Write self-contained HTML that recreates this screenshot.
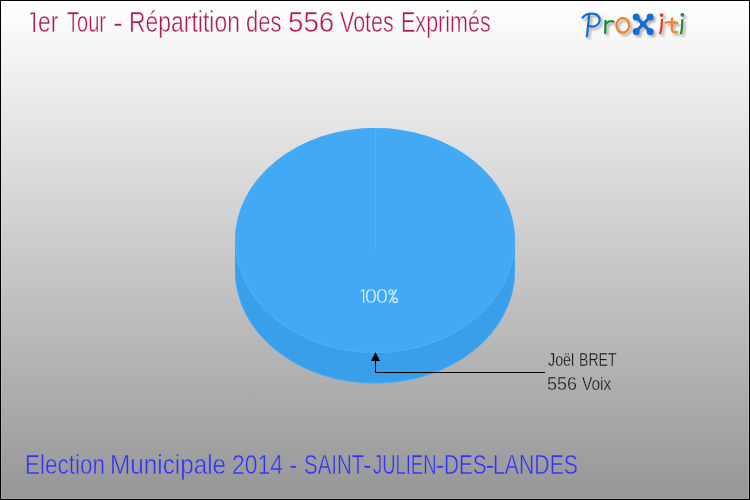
<!DOCTYPE html>
<html><head><meta charset="utf-8">
<style>
html,body{margin:0;padding:0;width:750px;height:500px;overflow:hidden;}
#wrap{position:absolute;left:0;top:0;width:750px;height:500px;box-sizing:border-box;border:1px solid #000;
background:linear-gradient(to bottom,#ffffff 0px,#969696 500px);background-origin:border-box;}
#hl{position:absolute;left:0;top:0;right:0;bottom:0;border:1px solid rgba(255,255,255,0.12);}
.t{position:absolute;font-family:"Liberation Sans",sans-serif;white-space:nowrap;transform-origin:0 0;line-height:1;}
svg{position:absolute;left:0;top:0;}
.shadow{--cb:#b0b0b0;--cg:#b0b0b0;--co:#b0b0b0;--cr:#b0b0b0;}
.main{--cb:#146ed2;--cg:#1e8c3a;--co:#f7821c;--cr:#e83a1c;}
.pb{stroke:var(--cb);} .pb .dot,.px .dot{fill:var(--cb);stroke:none;}
.px{stroke:var(--cb);}
.pg{stroke:var(--cg);} .pg .dot{fill:var(--cg);stroke:none;}
.po{stroke:var(--co);}
.pr{stroke:var(--cr);} .pr .dot{fill:var(--cr);stroke:none;}
</style></head><body>
<div id="wrap"><div id="hl"></div></div>
<svg width="750" height="500" viewBox="0 0 750 500">
  <path d="M235,240.5 L235,271 A140,112.5 0 0 0 515,271 L515,240.5 Z" fill="#3a9fea"/>
  <path d="M235.4,240.5 L235.4,271 A139.6,112.1 0 0 0 514.6,271 L514.6,240.5" fill="none" stroke="#3db0fc" stroke-width="0.8"/>
  <ellipse cx="375" cy="240.5" rx="140" ry="112.5" fill="#43a9f4"/>
  <path d="M235.4,240.5 A139.6,112.1 0 0 1 514.6,240.5" fill="none" stroke="#3db0fc" stroke-width="0.8"/>
  <path d="M235.5,240.5 A139.5,112 0 0 0 514.5,240.5" fill="none" stroke="#4cb3fa" stroke-width="1"/>
  <line x1="375.5" y1="129" x2="375.5" y2="249" stroke="#4fb4fc" stroke-width="1"/>
  <path d="M31,14.2 L31.4,13.2 L34.3,13.2 L34.3,31.9" fill="none" stroke="#b0185a" stroke-width="1.6" stroke-linejoin="round"/>
  <g fill="none" stroke="#dcefff" stroke-width="1.2">
  <path d="M360.8,291.6 L363.6,289.6 L363.6,303.1" stroke-linejoin="miter"/>
  <circle cx="391.1" cy="292.1" r="2.1"/><circle cx="395.2" cy="300.3" r="2.2"/>
  <path d="M396.6,289.4 L389.4,302.8"/></g>
  <polygon points="375.5,352 371,361 380,361" fill="#000"/>
  <polyline points="375.5,360 375.5,372.5 545,372.5" fill="none" stroke="#000" stroke-width="1"/>
</svg>
<svg width="750" height="500" viewBox="0 0 750 500">
 <defs>
  <filter id="blr" x="-10%" y="-10%" width="120%" height="120%"><feGaussianBlur stdDeviation="0.8"/></filter>
 </defs>
 <g transform="translate(2.2,2.4)" filter="url(#blr)" class="shadow"><g fill="none" stroke-linecap="round" stroke-linejoin="round">
   <g class="pb"><path d="M582.6,17.6 C585,14.6 589.5,13.4 594,13.8 C600,14.6 601.3,21.5 597.2,24.8 C594.7,26.7 591.5,26.7 589.8,26.2" stroke-width="2.3"/>
   <path d="M589,15.2 C588.6,22 587.6,30 586.9,36.4" stroke-width="2.3"/></g>
   <g class="pg"><path d="M605.5,21 L605.2,33 M605.5,24.6 C607,21.6 610.5,20.3 613.3,21.5" stroke-width="2.3"/></g>
   <g class="po"><ellipse cx="622.8" cy="25.3" rx="6.4" ry="7.3" stroke-width="2.3"/></g>
   <g class="px"><path d="M636.2,16.9 L650.1,31.4 M650.1,16.9 L636.2,31.4" stroke-width="3"/>
     <circle cx="643.15" cy="24.15" r="3" class="dot"/>
     <circle cx="636.2" cy="16.9" r="3.5" class="dot"/><circle cx="650.1" cy="16.9" r="3.5" class="dot"/>
     <circle cx="636.2" cy="31.4" r="3.5" class="dot"/><circle cx="650.1" cy="31.4" r="3.5" class="dot"/></g>
   <g class="pr"><path d="M661.9,19.8 C661.8,25 661.3,30 660.2,33.4" stroke-width="2.2"/><circle cx="661.6" cy="15.1" r="1.9" class="dot"/></g>
   <g class="po"><path d="M672.1,18.4 C671.9,23 671.6,27 671.8,29.5 C672,32 674.5,32.6 677.2,32.1 M665.8,22.5 C669.5,21.9 673.5,22.1 677.2,22.8" stroke-width="2.2"/></g>
   <g class="pg"><path d="M682.3,20 C682.2,25 682,30 681,33.5" stroke-width="2.2"/><circle cx="682.4" cy="14.8" r="1.9" class="dot"/></g>
  </g></g>
 <g class="main"><g fill="none" stroke-linecap="round" stroke-linejoin="round">
   <g class="pb"><path d="M582.6,17.6 C585,14.6 589.5,13.4 594,13.8 C600,14.6 601.3,21.5 597.2,24.8 C594.7,26.7 591.5,26.7 589.8,26.2" stroke-width="2.3"/>
   <path d="M589,15.2 C588.6,22 587.6,30 586.9,36.4" stroke-width="2.3"/></g>
   <g class="pg"><path d="M605.5,21 L605.2,33 M605.5,24.6 C607,21.6 610.5,20.3 613.3,21.5" stroke-width="2.3"/></g>
   <g class="po"><ellipse cx="622.8" cy="25.3" rx="6.4" ry="7.3" stroke-width="2.3"/></g>
   <g class="px"><path d="M636.2,16.9 L650.1,31.4 M650.1,16.9 L636.2,31.4" stroke-width="3"/>
     <circle cx="643.15" cy="24.15" r="3" class="dot"/>
     <circle cx="636.2" cy="16.9" r="3.5" class="dot"/><circle cx="650.1" cy="16.9" r="3.5" class="dot"/>
     <circle cx="636.2" cy="31.4" r="3.5" class="dot"/><circle cx="650.1" cy="31.4" r="3.5" class="dot"/></g>
   <g class="pr"><path d="M661.9,19.8 C661.8,25 661.3,30 660.2,33.4" stroke-width="2.2"/><circle cx="661.6" cy="15.1" r="1.9" class="dot"/></g>
   <g class="po"><path d="M672.1,18.4 C671.9,23 671.6,27 671.8,29.5 C672,32 674.5,32.6 677.2,32.1 M665.8,22.5 C669.5,21.9 673.5,22.1 677.2,22.8" stroke-width="2.2"/></g>
   <g class="pg"><path d="M682.3,20 C682.2,25 682,30 681,33.5" stroke-width="2.2"/><circle cx="682.4" cy="14.8" r="1.9" class="dot"/></g>
  </g></g>
</svg>

<div class="t" style="left:38.01px;top:7.80px;font-size:28.8px;color:#b0185a;-webkit-text-stroke:0.5px #f7f7f7;transform:scaleX(0.7917);">er</div>
<div class="t" style="left:66.70px;top:7.80px;font-size:28.8px;color:#b0185a;-webkit-text-stroke:0.5px #f7f7f7;transform:scaleX(0.6963);">Tour</div>
<div class="t" style="left:113.03px;top:8.60px;font-size:28.8px;color:#b0185a;-webkit-text-stroke:0.5px #f7f7f7;transform:scaleX(1.0333);">-</div>
<div class="t" style="left:128.51px;top:7.80px;font-size:28.8px;color:#b0185a;-webkit-text-stroke:0.5px #f7f7f7;transform:scaleX(0.7963);">Répartition</div>
<div class="t" style="left:246.44px;top:7.80px;font-size:28.8px;color:#b0185a;-webkit-text-stroke:0.5px #f7f7f7;transform:scaleX(0.7636);">des</div>
<div class="t" style="left:287.67px;top:7.80px;font-size:28.8px;color:#b0185a;-webkit-text-stroke:0.5px #f7f7f7;transform:scaleX(0.9636);">556</div>
<div class="t" style="left:340.25px;top:7.80px;font-size:28.8px;color:#b0185a;-webkit-text-stroke:0.5px #f7f7f7;transform:scaleX(0.7457);">Votes</div>
<div class="t" style="left:400.56px;top:7.80px;font-size:28.8px;color:#b0185a;-webkit-text-stroke:0.5px #f7f7f7;transform:scaleX(0.7478);">Exprimés</div>
<div class="t" style="left:25.44px;top:451.00px;font-size:27.4px;color:#3030ff;-webkit-text-stroke:0.5px #a0a0a0;transform:scaleX(0.8207);">Election</div>
<div class="t" style="left:110.04px;top:451.00px;font-size:27.4px;color:#3030ff;-webkit-text-stroke:0.5px #a0a0a0;transform:scaleX(0.8865);">Municipale</div>
<div class="t" style="left:232.33px;top:451.00px;font-size:27.4px;color:#3030ff;-webkit-text-stroke:0.5px #a0a0a0;transform:scaleX(0.8345);">2014</div>
<div class="t" style="left:288.53px;top:451.00px;font-size:27.4px;color:#3030ff;-webkit-text-stroke:0.5px #a0a0a0;transform:scaleX(0.9333);">-</div>
<div class="t" style="left:303.51px;top:451.00px;font-size:27.4px;color:#3030ff;-webkit-text-stroke:0.5px #a0a0a0;transform:scaleX(0.7462);">SAINT</div>
<div class="t" style="left:363.33px;top:451.00px;font-size:27.4px;color:#3030ff;-webkit-text-stroke:0.5px #a0a0a0;transform:scaleX(0.9333);">-</div>
<div class="t" style="left:372.93px;top:451.00px;font-size:27.4px;color:#3030ff;-webkit-text-stroke:0.5px #a0a0a0;transform:scaleX(0.6725);">JULIEN</div>
<div class="t" style="left:435.40px;top:451.00px;font-size:27.4px;color:#3030ff;-webkit-text-stroke:0.5px #a0a0a0;transform:scaleX(1.0000);">-</div>
<div class="t" style="left:443.53px;top:451.00px;font-size:27.4px;color:#3030ff;-webkit-text-stroke:0.5px #a0a0a0;transform:scaleX(0.7577);">DES</div>
<div class="t" style="left:484.73px;top:451.00px;font-size:27.4px;color:#3030ff;-webkit-text-stroke:0.5px #a0a0a0;transform:scaleX(1.0333);">-</div>
<div class="t" style="left:493.47px;top:451.00px;font-size:27.4px;color:#3030ff;-webkit-text-stroke:0.5px #a0a0a0;transform:scaleX(0.7752);">LANDES</div>
<div class="t" style="left:548.04px;top:350.80px;font-size:18.9px;color:#151515;-webkit-text-stroke:0.35px #b3b3b3;transform:scaleX(0.7563);">Joël</div>
<div class="t" style="left:579.21px;top:350.80px;font-size:18.9px;color:#151515;-webkit-text-stroke:0.35px #b3b3b3;transform:scaleX(0.7447);">BRET</div>
<div class="t" style="left:547.32px;top:374.40px;font-size:19.2px;color:#151515;-webkit-text-stroke:0.35px #b0b0b0;transform:scaleX(0.9350);">556</div>
<div class="t" style="left:582.09px;top:374.40px;font-size:19.2px;color:#151515;-webkit-text-stroke:0.35px #b0b0b0;transform:scaleX(0.8088);">Voix</div>
<div class="t" style="left:365.13px;top:286.20px;font-size:20.1px;color:#e6f3fe;-webkit-text-stroke:0.4px #43a9f4;transform:scaleX(1.0667);">0</div>
<div class="t" style="left:376.33px;top:286.20px;font-size:20.1px;color:#e6f3fe;-webkit-text-stroke:0.4px #43a9f4;transform:scaleX(1.0667);">0</div>
</body></html>
